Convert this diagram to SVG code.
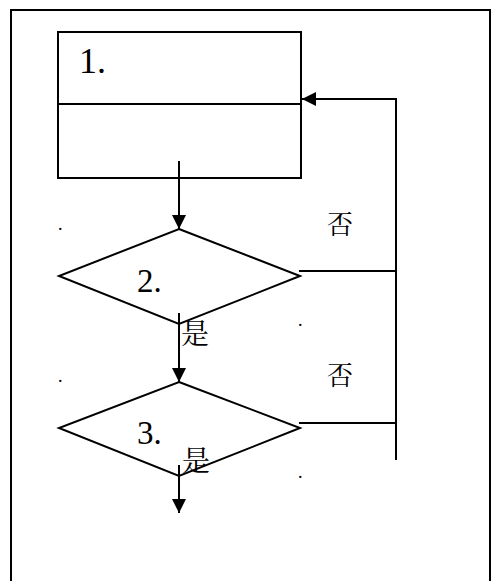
<svg xmlns="http://www.w3.org/2000/svg" width="491" height="581" viewBox="0 0 491 581">
  <style>
    .shape { fill: #fff; stroke: #000; stroke-width: 2; }
    .line { fill: none; stroke: #000; stroke-width: 2; }
    .num { font-family: "Liberation Serif", "Times New Roman", serif; fill: #000; }
    .cjk { font-family: "Noto Serif CJK SC", "Noto Sans CJK SC", "Liberation Serif", serif; fill: #000; }
    .dot { font-family: "Liberation Serif", serif; font-size: 18px; fill: #000; }
  </style>
  <defs>
    <marker id="arrow" viewBox="0 0 10 10" refX="10" refY="5" markerWidth="7" markerHeight="7" markerUnits="strokeWidth" orient="auto">
      <path d="M0,0 L10,5 L0,10 Z" fill="#000"/>
    </marker>
  </defs>

  <!-- page frame -->
  <path d="M11,585 L11,10 L490,10 L490,585" fill="none" stroke="#000" stroke-width="2"/>

  <g id="node-1">
    <rect class="shape" x="58" y="32" width="243" height="146"/>
    <line class="line" x1="58" y1="104" x2="301" y2="104"/>
    <text class="num" x="79" y="73" font-size="36">1.</text>
  </g>

  <g id="node-2">
    <polygon class="shape" points="179,229 300,276 179,324 59,276"/>
    <text class="num" x="137" y="292" font-size="33">2.</text>
  </g>

  <g id="node-3">
    <polygon class="shape" points="179,382 300,428 179,476 59,428"/>
    <text class="num" x="137" y="444" font-size="33">3.</text>
  </g>

  <g id="connectors">
    <line class="line" x1="179" y1="161" x2="179" y2="229" marker-end="url(#arrow)"/>
    <line class="line" x1="179" y1="313" x2="179" y2="382" marker-end="url(#arrow)"/>
    <line class="line" x1="179" y1="465" x2="179" y2="513" marker-end="url(#arrow)"/>
    <polyline class="line" points="299,271 396,271"/>
    <polyline class="line" points="299,423 396,423"/>
    <polyline class="line" points="396,460 396,99 302,99" marker-end="url(#arrow)"/>
  </g>

  <g id="labels">
    <text class="cjk" x="327" y="234" font-size="26">否</text>
    <text class="cjk" x="327" y="385" font-size="26">否</text>
    <text class="cjk" x="181" y="344" font-size="28">是</text>
    <text class="cjk" x="182" y="471" font-size="28">是</text>
    <text class="dot" x="58" y="230">.</text>
    <text class="dot" x="298" y="326">.</text>
    <text class="dot" x="58" y="382">.</text>
    <text class="dot" x="298" y="478">.</text>
  </g>
</svg>
